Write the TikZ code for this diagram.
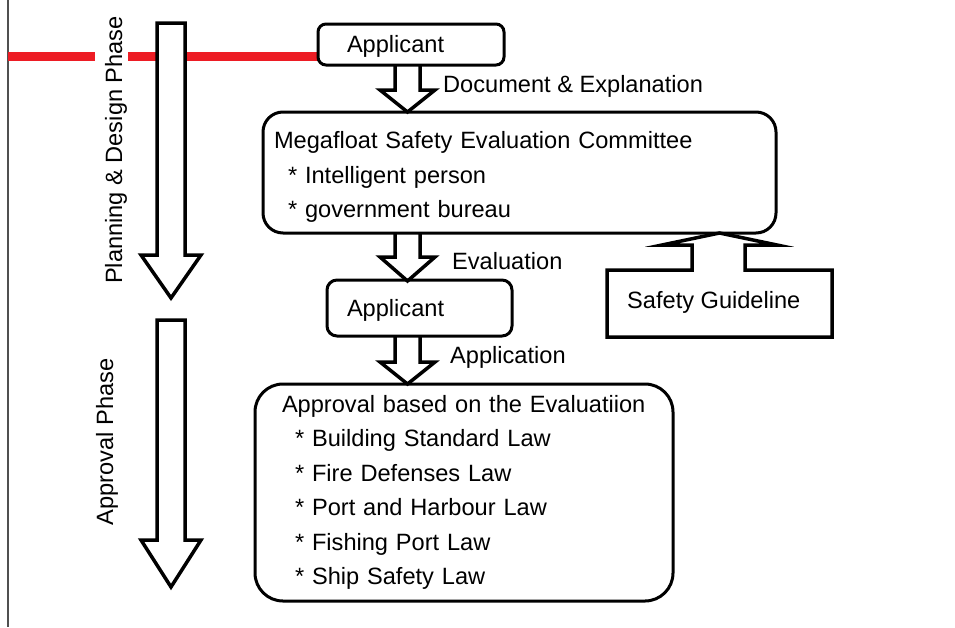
\documentclass[tikz,border=0pt]{standalone}
\usepackage{fontspec}
\setmainfont{Liberation Sans}
\definecolor{phasered}{RGB}{237,28,36}
\definecolor{edgegray}{RGB}{80,80,80}
\newcommand\smalldown[4]{% x centre, top, head base, tip
  \draw[blk] (#1-12.5,#2) -- (#1-12.5,#3) -- (#1-27.5,#3) -- (#1,#4) -- (#1+27.5,#3) -- (#1+12.5,#3) -- (#1+12.5,#2);}
\newcommand\bigdown[4]{% x centre, top, head base, tip
  \draw[blk] (#1-14,#2) -- (#1-14,#3) -- (#1-30,#3) -- (#1,#4) -- (#1+30,#3) -- (#1+14,#3) -- (#1+14,#2) -- cycle;}
\begin{document}
\begin{tikzpicture}[x=1pt,y=-1pt,
  font=\fontsize{23.6}{34.5}\selectfont,
  box/.style={draw, line width=3pt, anchor=north west, outer sep=0pt, inner ysep=0pt, align=left},
  blk/.style={draw, fill=white, line width=3.5pt, miter limit=10},
  redline/.style={draw=phasered, line width=9pt},
  lbl/.style={anchor=west, inner sep=0pt},
  phase/.style={rotate=90, inner sep=0pt}]
\useasboundingbox (0,0) rectangle (955,627);

% left rule
\coordinate (ltop) at (8,0);
\coordinate (lbot) at (8,627);
\draw[edgegray, line width=1.3pt] (ltop) -- (lbot);

% phase labels
\node[phase] (pd) at (116,150) {Planning \& Design Phase};
\node[phase] (ap) at (107,442) {Approval Phase};

% red line
\coordinate (r0) at (8,56.5);
\coordinate (r1) at (95,56.5);
\coordinate (r2) at (128,56.5);
\coordinate (r3) at (318,56.5);
\draw[redline] (r0) -- (r1);
\draw[redline] (r2) -- (r3);

% phase arrows
\bigdown{171}{23}{255}{298}
\bigdown{171}{320}{540}{587}

% flow arrows
\smalldown{407.5}{65}{90}{112}
\smalldown{407.5}{233}{257}{281}
\smalldown{407.5}{336}{362}{384}

% boxes
\node[box, rounded corners=8pt, minimum width=186pt, minimum height=41pt, inner xsep=29pt, text width=128pt] (app1) at (318,24) {\rule{0pt}{21pt}Applicant};
\node[box, rounded corners=20pt, minimum width=513pt, minimum height=121pt, inner xsep=11pt, text width=491pt] (mega) at (263,112)
  {\rule{0pt}{26pt}Megafloat Safety Evaluation Committee\\
   \hspace*{14pt}* Intelligent person\\
   \hspace*{14pt}* government bureau};
\node[box, rounded corners=10pt, minimum width=185pt, minimum height=56pt, inner xsep=20pt, text width=145pt] (app2) at (327,280) {\rule{0pt}{21pt}Applicant};
\node[box, rounded corners=28pt, minimum width=418pt, minimum height=217pt, inner xsep=27pt, text width=364pt] (appr) at (255,384)
  {Approval based on the Evaluatiion\\
   \hspace*{13pt}* Building Standard Law\\
   \hspace*{13pt}* Fire Defenses Law\\
   \hspace*{13pt}* Port and Harbour Law\\
   \hspace*{13pt}* Fishing Port Law\\
   \hspace*{13pt}* Ship Safety Law};

% safety guideline box with upward arrow
\draw[line width=3.5pt, miter limit=10] (607,270) -- (692,270) -- (692,245) -- (662,245) -- (719.5,233) -- (777,245) -- (745,245) -- (745,270) -- (832,270) -- (832,337) -- (607,337) -- cycle;
\node[lbl] (sg) at (627,302) {Safety Guideline};

% flow labels
\node[lbl] (l1) at (443,86) {Document \& Explanation};
\node[lbl] (l2) at (452,261) {Evaluation};
\node[lbl] (l3) at (450,357) {Application};
\end{tikzpicture}
\end{document}
